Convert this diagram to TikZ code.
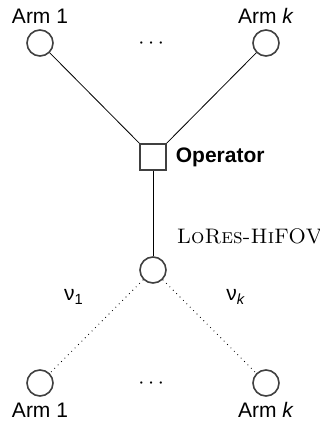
\documentclass[tikz,border=0pt]{standalone}
\usepackage{amsmath}
\usepackage{fontspec}
\setsansfont{Liberation Sans}
\usepackage{tikz}

\tikzset{arm/.style={circle,draw=black!75,thick,minimum size=13pt,inner sep=0pt},
  op/.style={rectangle,draw=black!75,thick,minimum size=13pt,inner sep=0pt},
  lbl/.style={font=\fontsize{10.5}{13}\selectfont\sffamily,inner sep=0.75pt}}

\begin{document}
\begin{tikzpicture}[x=0.5pt,y=0.5pt,yscale=-1.0,xscale=1.0]
\useasboundingbox (0,0) rectangle (320,424);
\node [arm] (a1) at (40,43) {};
\node [arm] (ak) at (266,43) {};
\node [op] (op) at (153,157) {};
\node [arm] (lr) at (153,270) {};
\node [arm] (b1) at (40,383) {};
\node [arm] (bk) at (266,383) {};
\draw (a1) -- (op) ;
\draw (ak) -- (op) ;
\draw (op) -- (lr) ;
\draw [dotted] (lr) -- (b1) ;
\draw [dotted] (lr) -- (bk) ;
\draw (40,16) node [lbl] (ta1) {Arm 1};
\draw (266,16) node [lbl] (tak) {Arm \textit{k}};
\draw (153,44) node [lbl] (td) {$\cdots$};
\draw (174,157) node [lbl,anchor=west,font=\fontsize{10.5}{13}\selectfont\sffamily\bfseries] (top) {Operator};
\draw (175,236) node [lbl,anchor=west,font=\fontsize{10.5}{13}\selectfont\rmfamily] (tlr) {\textsc{LoRes-HiFOV}};
\draw (74,297) node [lbl] (tn1) {ν\textsubscript{1}};
\draw (236,297) node [lbl] (tnk) {ν\textsubscript{\textit{k}}};
\draw (153,384) node [lbl] (bd) {$\cdots$};
\draw (40,410) node [lbl] (tb1) {Arm 1};
\draw (266,410) node [lbl] (tbk) {Arm \textit{k}};
\end{tikzpicture}
\end{document}
